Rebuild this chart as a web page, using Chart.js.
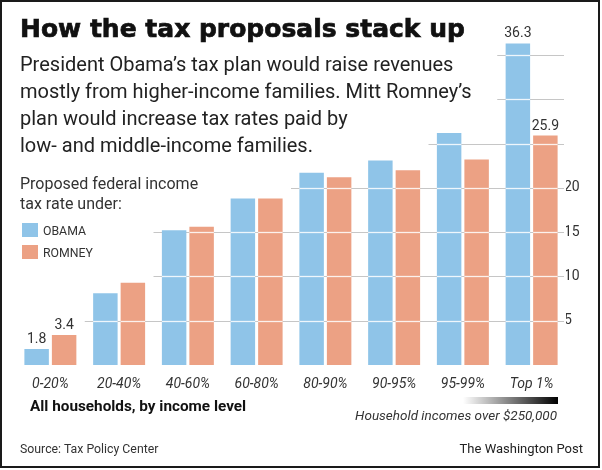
<!DOCTYPE html>
<html><head><meta charset="utf-8">
<script src="https://cdn.jsdelivr.net/npm/chart.js@4/dist/chart.umd.min.js"></script>
<style>
html,body{margin:0;padding:0;background:#fff;}
#wrap{position:relative;width:602px;height:470px;overflow:hidden;font-family:Roboto,"Noto Sans",sans-serif;color:#222;}
#frame{position:absolute;left:0;top:0;width:600px;height:468px;border:2px solid #1a1a1a;box-sizing:border-box;pointer-events:none;}
canvas{position:absolute;left:0;top:0;}
.t{position:absolute;white-space:nowrap;line-height:1;}
.sw{position:absolute;width:16px;height:14px;}
</style></head>
<body>
<div id="wrap">
  <canvas id="c" width="602" height="470"></canvas>
  <div class="t" style="left:20px;top:15.5px;font-family:'DejaVu Sans',sans-serif;font-weight:bold;font-size:25px;color:#111;-webkit-text-stroke:0.7px #111;">How the tax proposals stack up</div>
  <div class="t" style="left:20px;top:51px;font-size:20px;line-height:27px;color:#222;">President Obama’s tax plan would raise revenues<br>mostly from higher-income families. Mitt Romney’s<br>plan would increase tax rates paid by<br>low- and middle-income families.</div>
  <div class="t" style="left:20px;top:174px;font-size:16px;line-height:20px;color:#333;">Proposed federal income<br>tax rate under:</div>
  <div class="sw" style="left:22px;top:223px;background:#8fc4e8;"></div>
  <div class="t" style="left:43px;top:225px;font-size:12.3px;color:#333;">OBAMA</div>
  <div class="sw" style="left:22px;top:245px;background:#eca184;"></div>
  <div class="t" style="left:43px;top:247px;font-size:12.3px;color:#333;">ROMNEY</div>
  <div class="t" style="left:30px;top:399px;font-size:15.3px;font-weight:bold;color:#111;">All households, by income level</div>
  <div style="position:absolute;left:463px;top:397px;width:95px;height:7px;background:linear-gradient(to right,#ffffff,#000000);"></div>
  <div class="t" style="right:45px;top:408.6px;font-size:13.5px;font-style:italic;color:#333;">Household incomes over $250,000</div>
  <div class="t" style="left:20px;top:443px;font-size:12.3px;color:#333;">Source: Tax Policy Center</div>
  <div class="t" style="right:19px;top:442px;font-size:13px;color:#222;">The Washington Post</div>
  <div id="frame"></div>
</div>
<script>
const categories = ['0-20%','20-40%','40-60%','60-80%','80-90%','90-95%','95-99%','Top 1%'];
const obama  = [1.8, 8.1, 15.2, 18.8, 21.7, 23.1, 26.2, 36.3];
const romney = [3.4, 9.3, 15.6, 18.8, 21.2, 22.0, 23.2, 25.9];
const labeledCategories = ['0-20%','Top 1%'];
const labeledTicks = [5,10,15,20];

const gridPlugin = {
  id:'wpGrid',
  beforeDatasetsDraw(chart){
    const {ctx, chartArea, scales:{x,y}} = chart;
    const cw = x.getPixelForValue(1) - x.getPixelForValue(0);
    ctx.save();
    ctx.strokeStyle = '#c6c6c6'; ctx.lineWidth = 1;
    y.ticks.forEach(t=>{
      const v = t.value;
      if (v <= 0 || v >= y.max) return;
      const idx = categories.findIndex((c,i)=>Math.max(obama[i],romney[i]) >= v);
      if (idx < 0) return;
      const x0 = x.getPixelForValue(idx) - cw/2;
      const yy = Math.round(y.getPixelForValue(v)) + 0.5;
      ctx.beginPath(); ctx.moveTo(x0,yy); ctx.lineTo(chartArea.right-2,yy); ctx.stroke();
    });
    ctx.restore();
  },
  afterDatasetsDraw(chart){
    const {ctx, scales:{y}} = chart;
    ctx.save();
    ctx.strokeStyle = 'rgba(255,255,255,0.85)'; ctx.lineWidth = 1.3;
    chart.data.datasets.forEach((ds,di)=>{
      const meta = chart.getDatasetMeta(di);
      meta.data.forEach((bar,i)=>{
        y.ticks.forEach(t=>{
          const v = t.value;
          if (v <= 0 || v >= y.max) return;
          if (ds.data[i] > v + 0.3){
            const yy = Math.round(y.getPixelForValue(v)) + 0.5;
            ctx.beginPath(); ctx.moveTo(bar.x - bar.width/2, yy); ctx.lineTo(bar.x + bar.width/2, yy); ctx.stroke();
          }
        });
      });
    });
    ctx.fillStyle = '#333';
    ctx.font = '14px Roboto, "Noto Sans", sans-serif';
    ctx.textAlign = 'center'; ctx.textBaseline = 'alphabetic';
    chart.data.datasets.forEach((ds,di)=>{
      const meta = chart.getDatasetMeta(di);
      meta.data.forEach((bar,i)=>{
        if (!labeledCategories.includes(categories[i])) return;
        ctx.fillText(String(ds.data[i]), bar.x, bar.y - 6);
      });
    });
    ctx.restore();
  }
};

new Chart(document.getElementById('c'), {
  type:'bar',
  data:{
    labels: categories,
    datasets:[
      {label:'OBAMA', data: obama, backgroundColor:'#8fc4e8', borderWidth:0, categoryPercentage:0.8, barPercentage:0.89},
      {label:'ROMNEY', data: romney, backgroundColor:'#eca184', borderWidth:0, categoryPercentage:0.8, barPercentage:0.89}
    ]
  },
  options:{
    responsive:false, animation:false, devicePixelRatio:1,
    layout:{padding:{left:16, right:6, top:10.7, bottom:75}},
    plugins:{legend:{display:false}, tooltip:{enabled:false}},
    scales:{
      x:{
        grid:{display:false, drawTicks:false}, border:{display:false},
        ticks:{color:'#333', padding:11, font:{family:'Roboto', size:14, style:'italic'}, maxRotation:0, autoSkip:false},
        afterFit(a){ a.height = 30; }
      },
      y:{
        position:'right', min:0, max:40,
        grid:{display:false, drawTicks:false}, border:{display:false},
        ticks:{stepSize:5, padding:-2, color:'#333', font:{family:'Roboto', size:14},
          callback:(v)=> labeledTicks.includes(v) ? String(v) : ''},
        afterFit(a){ a.width = 30; }
      }
    }
  },
  plugins:[gridPlugin]
});
</script>
</body></html>
